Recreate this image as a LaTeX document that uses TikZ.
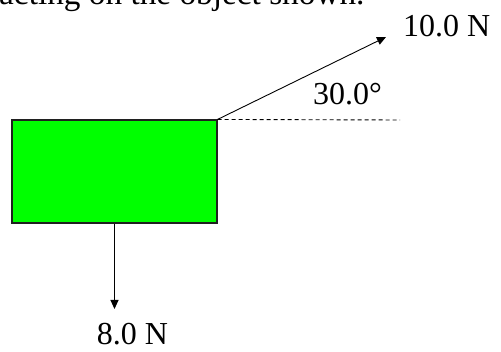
\documentclass[tikz,border=0pt]{standalone}
\usepackage{fontspec}
\setmainfont{Liberation Serif}
\usetikzlibrary{arrows.meta, positioning}
\definecolor{boxgreen}{HTML}{00FF00}
\definecolor{edgegray}{HTML}{202020}

\begin{document}
\begin{tikzpicture}[
  x=1pt, y=-1pt,
  every node/.style={font=\fontsize{32}{38}\selectfont, inner sep=0pt},
  force/.style={draw=black, line width=0.9pt, -{Triangle[length=9pt, width=8pt]}},
  object/.style={rectangle, draw=edgegray, line width=1.1pt, fill=boxgreen, minimum width=205pt, minimum height=103pt},
]
\useasboundingbox (0,0) rectangle (501,352);
\clip (0,0) rectangle (501,352);

% caption line cut at the top
\node[anchor=base west, font=\fontsize{33.3}{40}\selectfont] (caption) at (-1, 5) {acting on the object shown.};

% the object
\node[object] (box) at (114.5, 171.5) {};

% applied forces
\coordinate (tipA) at (386, 37);
\coordinate (tipW) at (114.5, 309);
\coordinate (refEnd) at (400, 120);
\draw[force] (box.north east) -- (tipA);
\draw[force] (box.south) -- (tipW);
\draw[black, line width=0.9pt, dash pattern=on 4pt off 3pt] (box.north east) -- (refEnd);

% labels
\node[anchor=base west] (labA) at (403, 37) {10.0 N};
\node[anchor=base] (ang) at (347.5, 105) {30.0°};
\node[anchor=base] (labW) at (132.5, 345) {8.0 N};
\end{tikzpicture}
\end{document}
